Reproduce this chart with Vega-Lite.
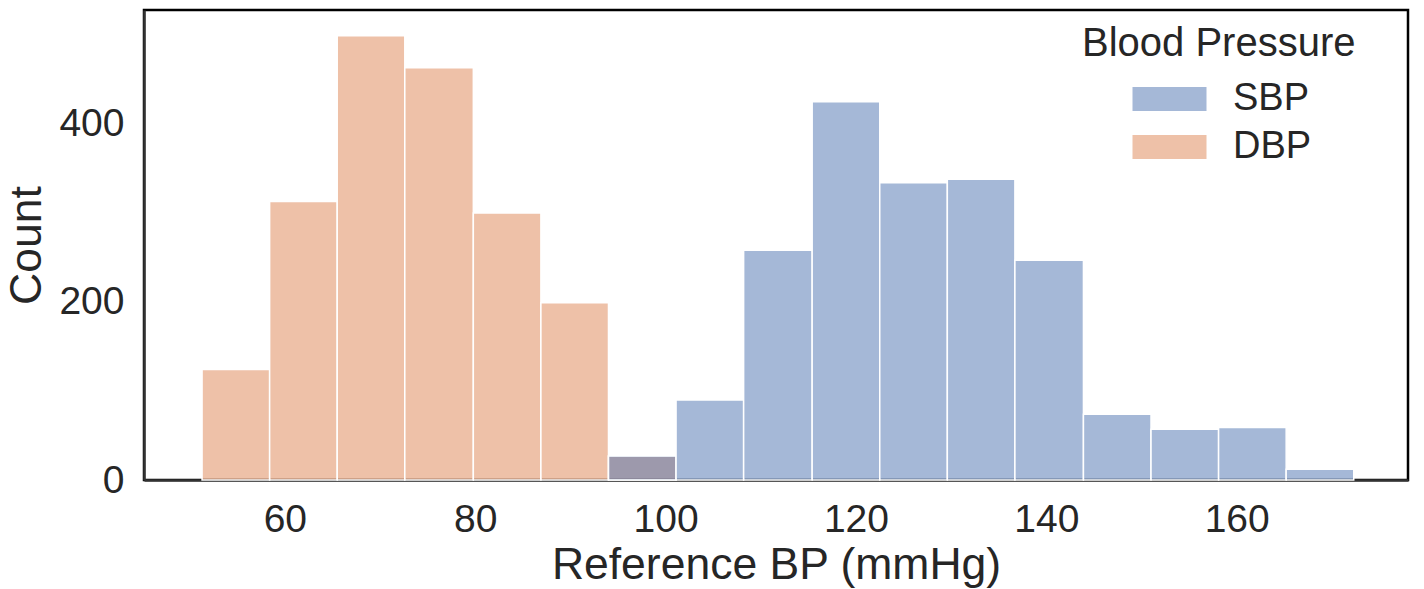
{
  "$schema": "https://vega.github.io/schema/vega-lite/v6.json",
  "width": 1264,
  "height": 470,
  "autosize": {"type": "none"},
  "padding": {"left": 144, "top": 10, "right": 16, "bottom": 109},
  "background": "white",
  "config": {
    "font": "Liberation Sans",
    "view": {"stroke": "black", "strokeWidth": 2.5},
    "axis": {"grid": false, "ticks": false, "tickSize": 0, "domainColor": "#333333", "domainWidth": 2.5, "labelColor": "#262626", "titleColor": "#262626", "labelFont": "Liberation Sans", "titleFont": "Liberation Sans", "titleFontWeight": "normal"}
  },
  "data": {
    "values": [
      {"start": 51.3, "end": 58.4, "count": 124, "bp": "DBP"},
      {"start": 58.4, "end": 65.5, "count": 313, "bp": "DBP"},
      {"start": 65.5, "end": 72.6, "count": 499, "bp": "DBP"},
      {"start": 72.6, "end": 79.8, "count": 463, "bp": "DBP"},
      {"start": 79.8, "end": 86.9, "count": 300, "bp": "DBP"},
      {"start": 86.9, "end": 94.0, "count": 199, "bp": "DBP"},
      {"start": 94.0, "end": 101.1, "count": 27, "bp": "DBP"},
      {"start": 94.0, "end": 101.1, "count": 27, "bp": "SBP"},
      {"start": 101.1, "end": 108.2, "count": 90, "bp": "SBP"},
      {"start": 108.2, "end": 115.4, "count": 258, "bp": "SBP"},
      {"start": 115.4, "end": 122.5, "count": 425, "bp": "SBP"},
      {"start": 122.5, "end": 129.6, "count": 334, "bp": "SBP"},
      {"start": 129.6, "end": 136.7, "count": 338, "bp": "SBP"},
      {"start": 136.7, "end": 143.9, "count": 247, "bp": "SBP"},
      {"start": 143.9, "end": 151.0, "count": 74, "bp": "SBP"},
      {"start": 151.0, "end": 158.1, "count": 57, "bp": "SBP"},
      {"start": 158.1, "end": 165.2, "count": 59, "bp": "SBP"},
      {"start": 165.2, "end": 172.3, "count": 12, "bp": "SBP"}
    ]
  },
  "mark": {"type": "bar", "fillOpacity": 0.5, "stroke": "white", "strokeWidth": 1.5},
  "encoding": {
    "x": {
      "field": "start", "type": "quantitative",
      "scale": {"domain": [45.2, 178], "nice": false, "zero": false},
      "axis": {"values": [60, 80, 100, 120, 140, 160], "labelFontSize": 39, "labelPadding": 20, "title": "Reference BP (mmHg)", "titleFontSize": 44.5, "titlePadding": 4}
    },
    "x2": {"field": "end"},
    "y": {
      "field": "count", "type": "quantitative", "stack": null,
      "scale": {"domain": [0, 528], "nice": false},
      "axis": {"values": [0, 200, 400], "labelFontSize": 39, "labelPadding": 20, "title": "Count", "titleFontSize": 44.5, "titlePadding": 9}
    },
    "y2": {"datum": 0},
    "color": {
      "field": "bp", "type": "nominal",
      "scale": {"domain": ["SBP", "DBP"], "range": ["#4c72b0", "#dd8452"]},
      "legend": {
        "title": "Blood Pressure",
        "orient": "none",
        "legendX": 938,
        "legendY": 14,
        "titleFontSize": 40,
        "titleFontWeight": "normal",
        "titleColor": "#262626",
        "titleLimit": 500,
        "titlePadding": 16,
        "labelFontSize": 38,
        "labelColor": "#262626",
        "labelOffset": 63,
        "symbolType": "M-1,-0.65L3,-0.65L3,0.65L-1,0.65Z",
        "symbolSize": 1369,
        "symbolOpacity": 0.5,
        "symbolStrokeWidth": 0,
        "symbolOffset": 50,
        "rowPadding": 10
      }
    }
  }
}
